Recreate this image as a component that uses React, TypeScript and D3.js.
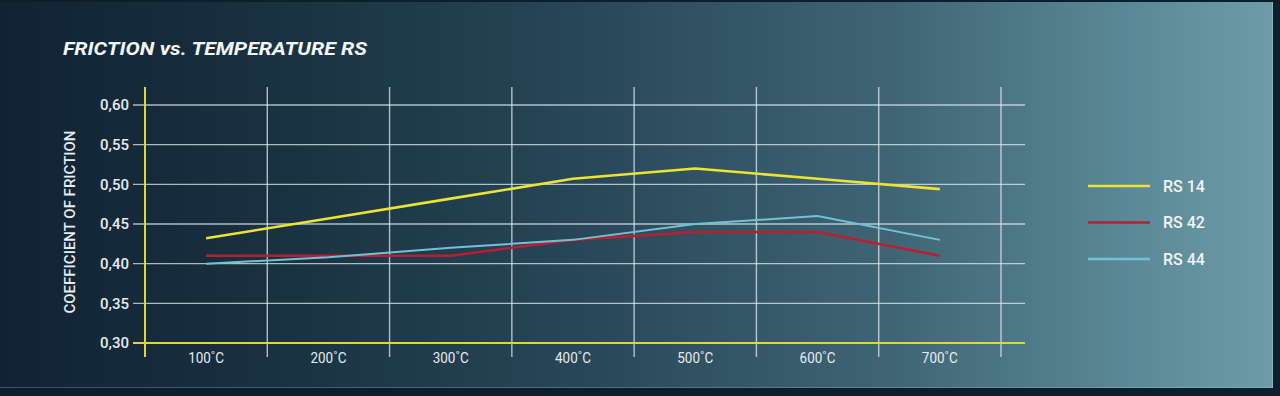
import React from "react";
import * as d3 from "d3";

const temperatures = ["100˚C", "200˚C", "300˚C", "400˚C", "500˚C", "600˚C", "700˚C"];
const rs14 = [0.432, 0.457, 0.482, 0.507, 0.52, 0.507, 0.494];
const rs42 = [0.41, 0.41, 0.41, 0.43, 0.44, 0.44, 0.41];
const rs44 = [0.4, 0.408, 0.42, 0.43, 0.45, 0.46, 0.43];
const yTicks = [0.3, 0.35, 0.4, 0.45, 0.5, 0.55, 0.6];
const seriesNames = ["RS 14", "RS 42", "RS 44"];
const seriesColors = ["#ece332", "#b91f30", "#72c2d6"];
const seriesWidths = [2.6, 2.6, 2];

const W = 1280;
const H = 396;

export default function App() {
  const x = d3.scaleBand<string>().domain(temperatures).range([145, 1001]);
  const y = d3.scaleLinear().domain([0.3, 0.6]).range([343, 105]);
  const line = d3
    .line<number>()
    .x((_, i) => (x(temperatures[i]) as number) + x.bandwidth() / 2)
    .y((v) => y(v));
  const series = [rs14, rs42, rs44];
  const gridColor = "rgba(225,235,240,0.75)";
  const vLines = temperatures.map((t) => (x(t) as number) + x.bandwidth());
  const font = "Roboto, 'Noto Sans', sans-serif";

  return (
    <svg
      width={W}
      height={H}
      style={{ position: "absolute", left: 0, top: 0, display: "block" }}
      fontFamily={font}
    >
      <defs>
        <linearGradient id="bg" x1="0" y1="0" x2="1" y2="0">
          <stop offset="0" stopColor="#102334" />
          <stop offset="0.2" stopColor="#18303f" />
          <stop offset="0.45" stopColor="#274657" />
          <stop offset="0.7" stopColor="#3f6575" />
          <stop offset="0.88" stopColor="#5a8795" />
          <stop offset="1" stopColor="#6d9ca8" />
        </linearGradient>
      </defs>
      <rect x={0} y={0} width={W} height={H} fill="#0e1f2c" />
      <rect x={0} y={2} width={1273} height={386} fill="url(#bg)" />
      <line x1={1272.5} y1={2} x2={1272.5} y2={388} stroke="rgba(200,225,230,0.35)" />
      <line x1={0} y1={387.5} x2={1273} y2={387.5} stroke="rgba(200,225,230,0.25)" />

      <text
        x={63}
        y={55}
        fill="#f4f6f7"
        fontSize={19}
        fontWeight={700}
        fontStyle="italic"
        textLength={304}
        lengthAdjust="spacingAndGlyphs"
      >
        FRICTION vs. TEMPERATURE RS
      </text>

      {/* horizontal grid */}
      {yTicks.map((t) => (
        <line
          key={"h" + t}
          x1={133}
          x2={1025}
          y1={y(t)}
          y2={y(t)}
          stroke={gridColor}
          strokeWidth={1.4}
        />
      ))}
      {/* vertical grid */}
      {vLines.map((vx, i) => (
        <line
          key={"v" + i}
          x1={vx}
          x2={vx}
          y1={87}
          y2={357}
          stroke={gridColor}
          strokeWidth={1.4}
        />
      ))}

      {/* axes */}
      <line x1={133} x2={1025} y1={y(0.3)} y2={y(0.3)} stroke="#d9d83c" strokeWidth={2} />
      <line x1={145} x2={145} y1={87} y2={357} stroke="#d9d83c" strokeWidth={2} />

      {/* y tick labels */}
      {yTicks.map((t) => (
        <text
          key={"yl" + t}
          x={129}
          y={y(t)}
          dy="0.35em"
          textAnchor="end"
          fill="#e6ecef"
          fontSize={15}
          fontWeight={500}
        >
          {t.toFixed(2).replace(".", ",")}
        </text>
      ))}

      {/* x labels */}
      {temperatures.map((t) => (
        <text
          key={"xl" + t}
          x={(x(t) as number) + x.bandwidth() / 2}
          y={358}
          dy="0.35em"
          textAnchor="middle"
          fill="#e6ecef"
          fontSize={14.5}
          textLength={36}
          lengthAdjust="spacingAndGlyphs"
        >
          {t}
        </text>
      ))}

      <text
        transform="translate(75,222) rotate(-90)"
        textAnchor="middle"
        fill="#e6ecef"
        fontSize={15}
        fontWeight={500}
        textLength={183}
        lengthAdjust="spacingAndGlyphs"
      >
        COEFFICIENT OF FRICTION
      </text>

      {/* series */}
      {series.map((s, i) => (
        <path
          key={"s" + i}
          d={line(s) as string}
          fill="none"
          stroke={seriesColors[i]}
          strokeWidth={seriesWidths[i]}
          strokeLinejoin="round"
        />
      ))}

      {/* legend */}
      {seriesNames.map((n, i) => (
        <g key={"lg" + n} transform={`translate(0,${186 + i * 36.5})`}>
          <line x1={1088} x2={1150} y1={0} y2={0} stroke={seriesColors[i]} strokeWidth={2.6} />
          <text x={1163} y={0} dy="0.35em" fill="#f2f5f6" fontSize={16} fontWeight={500}>
            {n}
          </text>
        </g>
      ))}
    </svg>
  );
}
